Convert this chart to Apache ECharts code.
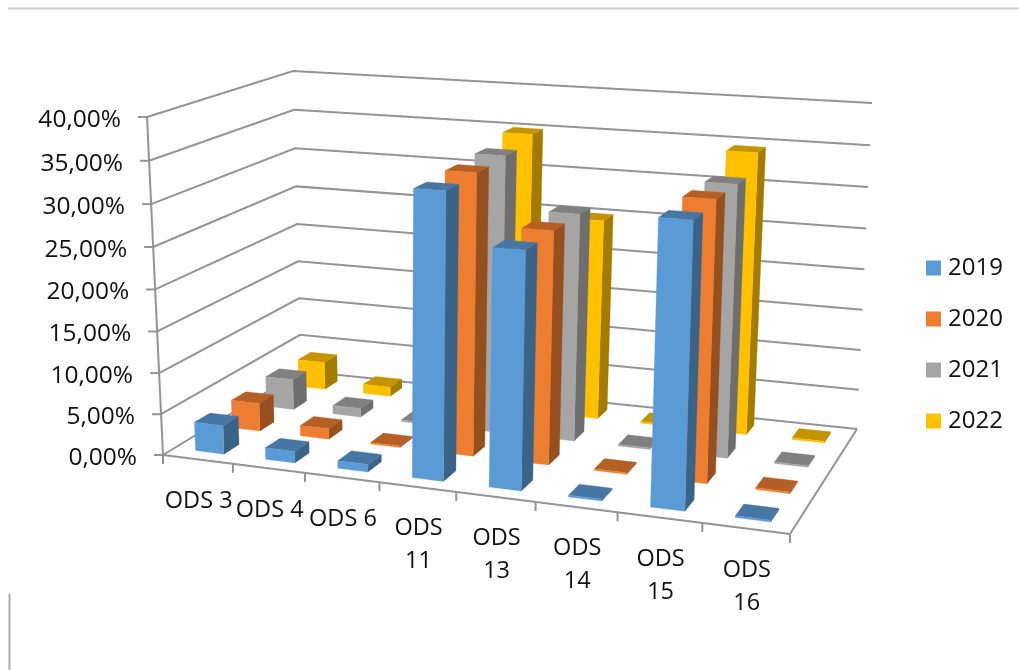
<!DOCTYPE html>
<html>
<head>
<meta charset="utf-8">
<style>html,body{margin:0;padding:0;background:#fff}#c{width:1019px;height:670px}</style>
<script src="https://cdn.jsdelivr.net/npm/echarts@6/dist/echarts.min.js"></script>
</head>
<body>
<div id="c"></div>
<script>
const categories = ['ODS 3','ODS 4','ODS 6','ODS\n11','ODS\n13','ODS\n14','ODS\n15','ODS\n16'];
const years = ['2019','2020','2021','2022'];
const v2019 = [3.5,1.4,0.9,33.4,27.5,0.2,32.2,0.2];
const v2020 = [3.5,1.3,0.2,33.7,27.7,0.2,32.6,0.2];
const v2021 = [3.9,1.1,0.2,34.0,27.7,0.2,32.5,0.2];
const v2022 = [3.6,1.2,0.2,35.0,25.0,0.2,34.5,0.2];
const yTicks = [0,5,10,15,20,25,30,35,40];

const colors = ['#5B9BD5','#ED7D31','#A5A5A5','#FFC000'];
const topColors = ['#4676A3','#B55F25','#808080','#C49300'];
const sideColors = ['#3A6388','#964F1E','#6E6E6E','#A37B00'];
const FONT = '"Open Sans", sans-serif';
const LINE = '#949494';

// corners of the chart box in perspective
function quadMap(p0,p1,p2,p3){
  const sx=p0[0]-p1[0]+p2[0]-p3[0], sy=p0[1]-p1[1]+p2[1]-p3[1];
  const dx1=p1[0]-p2[0], dx2=p3[0]-p2[0], dy1=p1[1]-p2[1], dy2=p3[1]-p2[1];
  const den=dx1*dy2-dx2*dy1;
  const g=(sx*dy2-dx2*sy)/den, h=(dx1*sy-sx*dy1)/den;
  const a=p1[0]-p0[0]+g*p1[0], b=p3[0]-p0[0]+h*p3[0], c=p0[0];
  const d=p1[1]-p0[1]+g*p1[1], e=p3[1]-p0[1]+h*p3[1], f=p0[1];
  return (u,v)=>{const q=g*u+h*v+1;return [(a*u+b*v+c)/q,(d*u+e*v+f)/q];};
}
const floorMap = quadMap([163,455],[790,534],[857,429],[301,371]);
const topMap = quadMap([147,117],[801,158],[872,103],[293,71]);
const K = 0.96;
function project(u,v,w){
  const t = w*K/((1-w)+w*K);
  const a = floorMap(u,v), b = topMap(u,v);
  return [a[0]+(b[0]-a[0])*t, a[1]+(b[1]-a[1])*t];
}
function level(api,val){
  const y0 = api.coord([0,0])[1], y1 = api.coord([0,40])[1];
  return (y0-api.coord([0,val])[1])/(y0-y1);
}
const nCat = categories.length, nRow = years.length, GAP = 0.41, CENTER = 0.512;

function barSeries(name, values, row){
  return {
    name, type:'custom', coordinateSystem:'cartesian2d', z:10+(nRow-row), silent:true,
    itemStyle:{color:colors[row]},
    data: values.map((val,i)=>[i,val]),
    renderItem(params,api){
      const i=api.value(0), w=level(api,api.value(1));
      const u0=(i+CENTER-GAP/2)/nCat, u1=(i+CENTER+GAP/2)/nCat;
      const v0=(row+0.5-GAP/2)/nRow, v1=(row+0.5+GAP/2)/nRow;
      const poly=(pts,fill)=>({type:'polygon',shape:{points:pts},style:{fill,stroke:fill,lineWidth:0.3}});
      return {type:'group',children:[
        poly([project(u1,v0,0),project(u1,v1,0),project(u1,v1,w),project(u1,v0,w)],sideColors[row]),
        poly([project(u0,v0,w),project(u1,v0,w),project(u1,v1,w),project(u0,v1,w)],topColors[row]),
        poly([project(u0,v0,0),project(u1,v0,0),project(u1,v0,w),project(u0,v0,w)],colors[row])
      ]};
    }
  };
}
const lineEl=(a,b,width,color)=>({type:'line',shape:{x1:a[0],y1:a[1],x2:b[0],y2:b[1]},style:{stroke:color||LINE,lineWidth:width||2}});

const wallSeries = {
  type:'custom', coordinateSystem:'cartesian2d', z:1, silent:true,
  data: yTicks.map(t=>[0,t]),
  renderItem(params,api){
    const t=api.value(1), w=level(api,t);
    const fl=project(0,0,w), bl=project(0,1,w), br=project(1,1,w);
    const kids=[
      {type:'polyline',shape:{points:[fl,bl,br]},style:{stroke:LINE,lineWidth:2,fill:null}},
      lineEl([fl[0]-9,fl[1]],fl),
      {type:'text',style:{text:t+',00%',x:fl[0]-26,y:fl[1]+3,align:'right',verticalAlign:'middle',font:'24.5px '+FONT,fill:'#111'}}
    ];
    if(t===0){
      kids.push(lineEl(project(0,0,0),project(1,0,0)));
      kids.push(lineEl(project(1,0,0),project(1,1,0)));
      kids.push(lineEl(project(0,0,0),project(0,0,1)));
    }
    return {type:'group',children:kids};
  }
};
const catSeries = {
  type:'custom', coordinateSystem:'cartesian2d', z:2, silent:true,
  data: categories.map((c,i)=>[i,0]),
  renderItem(params,api){
    const i=api.value(0);
    const a=project(i/nCat,0,0), m=project((i+0.5)/nCat,0,0);
    const kids=[
      lineEl(a,[a[0],a[1]+9]),
      {type:'text',style:{text:categories[i],x:m[0]+1,y:m[1]+25,align:'center',verticalAlign:'top',font:'23.5px '+FONT,lineHeight:33,fill:'#111'}}
    ];
    if(i===nCat-1){const e=project(1,0,0);kids.push(lineEl(e,[e[0],e[1]+9]));}
    return {type:'group',children:kids};
  }
};

const chart = echarts.init(document.getElementById('c'),null,{renderer:'canvas'});
chart.setOption({
  animation:false,
  backgroundColor:'#fff',
  grid:{left:147,top:117,width:650,height:338},
  xAxis:{type:'category',data:categories,show:false},
  yAxis:{type:'value',min:0,max:40,interval:5,show:false},
  legend:{
    orient:'vertical',left:921,top:251,itemWidth:15,itemHeight:15,itemGap:27,
    icon:'rect',data:years,selectedMode:false,
    textStyle:{fontFamily:FONT,fontSize:24,color:'#111',padding:[0,0,0,2]}
  },
  graphic:[
    {type:'line',shape:{x1:8,y1:8.5,x2:1019,y2:8.5},style:{stroke:'#cfcfcf',lineWidth:2}},
    {type:'line',shape:{x1:9.5,y1:594,x2:9.5,y2:670},style:{stroke:'#ababab',lineWidth:2}}
  ],
  series:[wallSeries,catSeries,
    barSeries(years[0],v2019,0),barSeries(years[1],v2020,1),
    barSeries(years[2],v2021,2),barSeries(years[3],v2022,3)]
});
</script>
</body>
</html>
